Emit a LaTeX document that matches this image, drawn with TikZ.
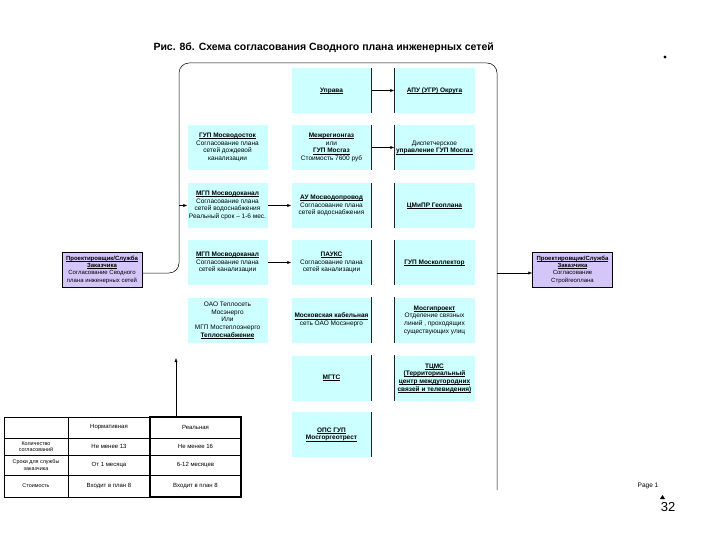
\documentclass[tikz,border=0pt]{standalone}
\usepackage{fontspec}
\setmainfont{Liberation Sans}
\usetikzlibrary{arrows.meta}
\definecolor{boxcyan}{HTML}{CCFFFF}
\definecolor{boxlav}{HTML}{D4C6F8}
\definecolor{edgedark}{HTML}{202020}
\newcommand{\bxfont}{\fontsize{6.5}{7.7}\selectfont}
\newcommand{\sbfont}{\fontsize{6}{7.3}\selectfont}
\newcommand{\tbfont}{\fontsize{6}{7}\selectfont}
\newcommand{\tbsmall}{\fontsize{5.4}{6.2}\selectfont}
\newcommand{\ulb}[1]{\setbox0\hbox{\bfseries #1}\rlap{\rule[-1.1pt]{\wd0}{0.45pt}}\box0}
\begin{document}
\begin{tikzpicture}[x=1pt,y=-1pt,
  cbox/.style={fill=boxcyan, minimum width=80pt, minimum height=45pt, inner sep=1pt, align=center, font=\bxfont},
  lbox/.style={fill=boxlav, draw=black, line width=0.5pt, minimum width=80pt, minimum height=35pt, inner sep=1pt, align=center, font=\sbfont},
  darkedge/.style={draw=edgedark, line width=0.6pt},
  conn/.style={draw=black, line width=0.5pt},
  arr/.style={conn, -{Latex[length=4pt,width=3.2pt]}},
  tcell/.style={font=\tbfont, align=center, inner sep=0pt},
  tsmall/.style={font=\tbsmall, align=center, inner sep=0pt}]
\useasboundingbox (0,0) rectangle (720,540);
\fill[white] (0,0) rectangle (720,540);

% title
\node[font=\fontsize{10.5}{12}\selectfont\bfseries, anchor=west] (title) at (150,48) {Рис. 8б. Схема согласования Сводного плана инженерных сетей};

% row 1
\node[cbox] (b12) at (331.5,90.5) {\ulb{Управа}};
\node[cbox] (b13) at (434.5,90.5) {\ulb{АПУ (УГР) Округа}};
% row 2
\node[cbox] (b21) at (227.5,147.5) {\ulb{ГУП Мосводосток}\\Согласование плана\\сетей дождевой\\канализации};
\node[cbox] (b22) at (331.5,147.5) {\ulb{Межрегионгаз}\\или\\\ulb{ГУП Мосгаз}\\Стоимость 7600 руб};
\node[cbox] (b23) at (434.5,147.5) {Диспетчерское\\\ulb{управление ГУП Мосгаз}};
% row 3
\node[cbox] (b31) at (227.5,205.5) {\ulb{МГП Мосводоканал}\\Согласование плана\\сетей водоснабжения\\Реальный срок – 1-6 мес.};
\node[cbox] (b32) at (331.5,205.5) {\ulb{АУ Мосводопровод}\\Согласование плана\\сетей водоснабжения};
\node[cbox] (b33) at (434.5,205.5) {\ulb{ЦМиПР Геоплана}};
% row 4
\node[cbox] (b41) at (227.5,262.5) {\ulb{МГП Мосводоканал}\\Согласование плана\\сетей канализации};
\node[cbox] (b42) at (331.5,262.5) {\ulb{ПАУКС}\\Согласование плана\\сетей канализации};
\node[cbox] (b43) at (434.5,262.5) {\ulb{ГУП Москоллектор}};
% row 5
\node[cbox] (b51) at (227.5,320) {ОАО Теплосеть\\Мосэнерго\\Или\\МГП Мостеплоэнерго\\\ulb{Теплоснабжение}};
\node[cbox] (b52) at (331.5,320) {\ulb{Московская кабельная}\\сеть ОАО Мосэнерго};
\node[cbox] (b53) at (434.5,320) {\ulb{Мосгипроект}\\Отделение связных\\линий , проходящих\\существующих улиц};
% row 6
\node[cbox] (b62) at (331.5,378) {\ulb{МГТС}};
\node[cbox] (b63) at (434.5,378) {\ulb{ТЦМС}\\\ulb{(Территориальный}\\\ulb{центр междугородних}\\\ulb{связей и телевидения)}};
% row 7
\node[cbox] (b72) at (331.5,434.5) {\ulb{ОПС ГУП}\\\ulb{Мосгоргеотрест}};

% dark edges
\foreach \n in {b12,b22,b32,b42,b52,b62,b72} {\draw[darkedge] (\n.north east) -- (\n.south east);}
\foreach \n in {b13,b23,b33,b43,b53,b63} {\draw[darkedge] (\n.north west) -- (\n.south west);}

% side boxes
\node[lbox] (lb) at (102,269.5) {\ulb{Проектировщик/Служба}\\\ulb{Заказчика}\\Согласование Сводного\\плана инженерных сетей};
\node[lbox] (rb) at (572.5,269.5) {\ulb{Проектировщик/Служба}\\\ulb{Заказчика}\\Согласование\\Стройгеоплана};

% frame
\coordinate (fl) at (179,273);
\coordinate (ftl) at (179,63);
\coordinate (ftr) at (497,63);
\coordinate (fr) at (497,273);
\coordinate (fb) at (497,490);
\coordinate (fa) at (179,205.5);
\draw[conn, rounded corners=10pt] (lb.east |- fl) -- (fl) -- (ftl) -- (ftr) -- (fb);
\draw[arr] (fa) -- (b31.west);
\draw[arr] (fr) -- (rb.west |- fr);

% arrows between boxes
\draw[arr] (b12.east) -- (b13.west);
\draw[arr] (b22.east) -- (b23.west);
\draw[arr] (b31.east) -- (b32.west);
\draw[arr] (b41.east) -- (b42.west);

% table
\coordinate (tt) at (176,417);
\coordinate (tu) at (176,358);
\draw[arr] (tt) -- (tu);
\draw[line width=0.5pt] (4,438) -- (241,438) (4,455) -- (241,455) (4,475) -- (241,475) (68,417) -- (68,497);
\draw[line width=1pt] (4,417) rectangle (241,497);
\draw[line width=1.5pt] (150,417) rectangle (241,497);
\node[tcell] (h2) at (109,427.5) {Нормативная};
\node[tcell] (h3) at (195.5,427.5) {Реальная};
\node[tsmall] (r1c1) at (36,446.5) {Количество\\согласований};
\node[tcell] (r1c2) at (109,446.5) {Не менее 13};
\node[tcell] (r1c3) at (195.5,446.5) {Не менее 16};
\node[tsmall] (r2c1) at (36,465) {Сроки для службы\\заказчика};
\node[tcell] (r2c2) at (109,465) {От 1 месяца};
\node[tcell] (r2c3) at (195.5,465) {6-12 месяцев};
\node[tsmall] (r3c1) at (36,486) {Стоимость};
\node[tcell] (r3c2) at (109,486) {Входит в план 8};
\node[tcell] (r3c3) at (195.5,486) {Входит в план 8};

% page marks
\fill (665,57) circle (1.6pt);
\node[font=\fontsize{6.5}{7}\selectfont] (pg) at (648,486) {Page 1};
\node[font=\fontsize{13}{14}\selectfont] (num) at (668,507) {32};
\fill (660,499) -- (662.5,495) -- (665,499) -- cycle;
\end{tikzpicture}
\end{document}
